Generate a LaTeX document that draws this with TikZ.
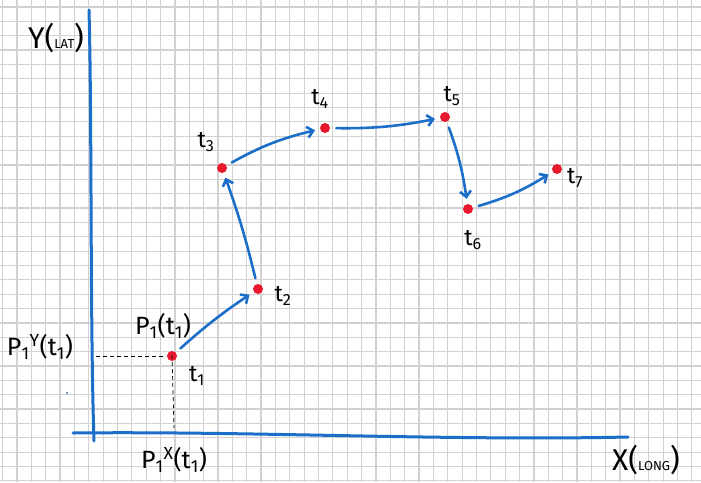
\documentclass[tikz,border=0pt]{standalone}
\usepackage{fontspec}
\setmainfont{Fira Sans}
\usetikzlibrary{arrows.meta}
\definecolor{pen}{HTML}{1B6FC8}
\definecolor{dotred}{HTML}{E8192C}
\definecolor{gridc}{HTML}{D2D2D2}
\begin{document}
\begin{tikzpicture}[x=1pt,y=-1pt,
  dot/.style={circle,fill=dotred,inner sep=0pt,minimum size=10pt},
  flow/.style={pen,line width=2.6pt,-{Straight Barb[length=6pt,width=11pt]},line cap=round,shorten <=6pt,shorten >=5pt},
  axis/.style={pen,line width=3pt,line cap=round},
  lab/.style={font=\fontsize{23}{25}\selectfont,inner sep=0pt},
  plab/.style={font=\fontsize{25}{27}\selectfont,inner sep=0pt},
  guide/.style={black,line width=0.7pt,dash pattern=on 4pt off 3pt}]
\fill[white] (0,0) rectangle (701,482);
\useasboundingbox (0,0) rectangle (701,482);
% grid paper
\foreach \i in {0,...,48} \draw[gridc,line width=1.2pt] ({2.6+14.36*\i},0) -- ++(0,482);
\foreach \j in {0,...,33} \draw[gridc,line width=1.2pt] (0,{7+14.36*\j}) -- ++(701,0);
% axes
\coordinate (ytop) at (89,10);
\coordinate (ybot) at (94,441);
\coordinate (xl) at (73,433);
\coordinate (xr) at (628,437);
\draw[axis] (ytop) .. controls (92,120) and (90,320) .. (ybot);
\draw[axis] (xl) .. controls (250,431) and (450,441) .. (xr);
% axis labels
\node[inner sep=0pt,font=\fontsize{30}{32}\selectfont] (ylab) at (56,38) {Y({\fontsize{13}{13}\selectfont LAT})};
\node[inner sep=0pt,font=\fontsize{30}{32}\selectfont] (xlab) at (646,460) {X({\fontsize{13}{13}\selectfont LONG})};
% points
\node[dot] (t1) at (172,356) {};
\node[dot] (t2) at (258,289) {};
\node[dot] (t3) at (222,168) {};
\node[dot] (t4) at (325,128) {};
\node[dot] (t5) at (445,117) {};
\node[dot] (t6) at (468,209) {};
\node[dot] (t7) at (557,169) {};
% point labels
\node[lab] (l1) at (197,376) {t\textsubscript{1}};
\node[lab] (l2) at (283,296) {t\textsubscript{2}};
\node[lab] (l3) at (206,142) {t\textsubscript{3}};
\node[lab] (l4) at (320,99) {t\textsubscript{4}};
\node[lab] (l5) at (452,96) {t\textsubscript{5}};
\node[lab] (l6) at (473,240) {t\textsubscript{6}};
\node[lab] (l7) at (575,178) {t\textsubscript{7}};
% P labels
\node[plab] (p1) at (163,326) {P\textsubscript{1}(t\textsubscript{1})};
\node[plab] (py) at (40,347) {P\textsubscript{1}\textsuperscript{Y}(t\textsubscript{1})};
\node[plab] (px) at (174,460) {P\textsubscript{1}\textsuperscript{X}(t\textsubscript{1})};
% projection guides
\coordinate (gy) at (96,356);
\coordinate (gx) at (174,428);
\draw[guide] (gy) -- ([xshift=-4pt]t1.west);
\draw[guide] ([yshift=6pt]t1.south) -- (gx);
% trajectory
\draw[flow] (t1) to[bend left=4] (t2);
\draw[flow] (t2) to[bend right=3] (t3);
\draw[flow] (t3) to[bend left=8] (t4);
\draw[flow] (t4) to[bend right=6] (t5);
\draw[flow] (t5) to[bend left=6] (t6);
\draw[flow] (t6) to[bend right=8] (t7);
% speck
\fill[pen!60!gray] (67,393) circle (1.2pt);
\end{tikzpicture}
\end{document}
